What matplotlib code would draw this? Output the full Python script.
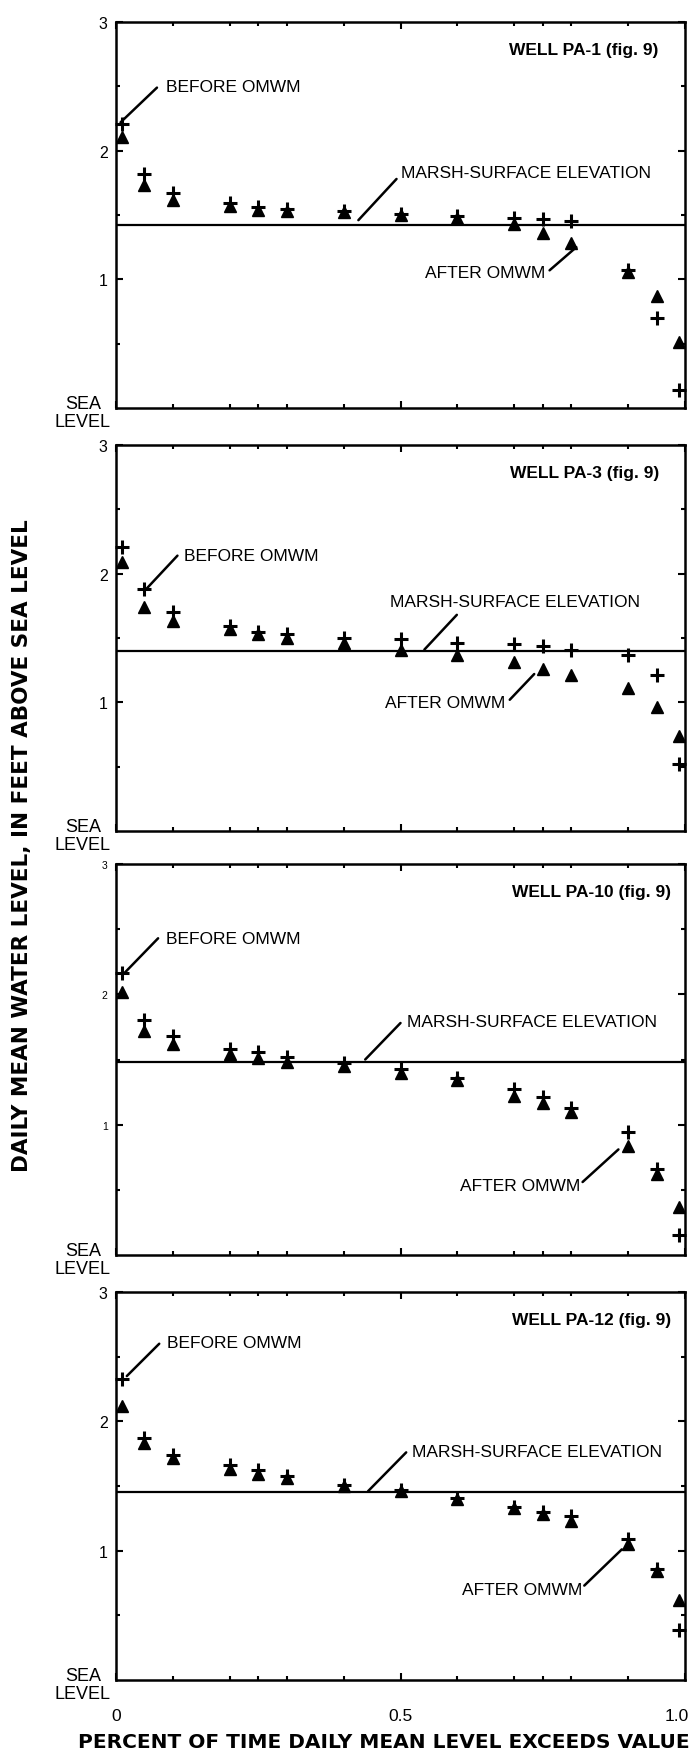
import matplotlib
matplotlib.use("Agg")
import matplotlib.pyplot as plt
import matplotlib.transforms as mtransforms
from matplotlib.ticker import FixedLocator, NullFormatter

plt.rcParams['font.family'] = ['Liberation Sans', 'DejaVu Sans']

# exceedance fraction for each plotted point
exceedance = [0.01, 0.05, 0.1, 0.2, 0.25, 0.3, 0.4, 0.5, 0.6, 0.7, 0.75, 0.8, 0.9, 0.95, 0.99]

# daily mean water level, feet above sea level
pa1_before = [2.21, 1.82, 1.67, 1.59, 1.56, 1.55, 1.53, 1.51, 1.49, 1.48, 1.47, 1.45, 1.07, 0.70, 0.14]
pa1_after = [2.11, 1.73, 1.62, 1.57, 1.54, 1.53, 1.52, 1.50, 1.48, 1.43, 1.36, 1.28, 1.06, 0.87, 0.51]
pa3_before = [2.21, 1.88, 1.70, 1.59, 1.55, 1.53, 1.50, 1.49, 1.46, 1.45, 1.44, 1.41, 1.37, 1.21, 0.52]
pa3_after = [2.09, 1.74, 1.63, 1.57, 1.53, 1.50, 1.46, 1.41, 1.37, 1.31, 1.26, 1.21, 1.11, 0.96, 0.74]
pa10_before = [2.16, 1.80, 1.68, 1.58, 1.56, 1.52, 1.47, 1.43, 1.36, 1.27, 1.21, 1.13, 0.94, 0.66, 0.15]
pa10_after = [2.02, 1.72, 1.62, 1.54, 1.51, 1.48, 1.45, 1.40, 1.34, 1.22, 1.17, 1.10, 0.84, 0.62, 0.37]
pa12_before = [2.33, 1.87, 1.74, 1.66, 1.62, 1.58, 1.51, 1.47, 1.41, 1.34, 1.30, 1.27, 1.09, 0.86, 0.39]
pa12_after = [2.12, 1.83, 1.72, 1.63, 1.59, 1.56, 1.50, 1.46, 1.40, 1.33, 1.28, 1.23, 1.05, 0.84, 0.62]

well_names = ["WELL PA-1 (fig. 9)", "WELL PA-3 (fig. 9)", "WELL PA-10 (fig. 9)", "WELL PA-12 (fig. 9)"]
marsh_elev = [1.42, 1.40, 1.48, 1.45]
before_sets = [pa1_before, pa3_before, pa10_before, pa12_before]
after_sets = [pa1_after, pa3_after, pa10_after, pa12_after]

# label placement: (text x, text y, line start, line end)
before_lbl = [(0.088, 2.50, (0.072, 2.49), (0.008, 2.22)),
              (0.119, 2.14, (0.108, 2.14), (0.053, 1.88)),
              (0.088, 2.43, (0.074, 2.43), (0.014, 2.16)),
              (0.089, 2.61, (0.076, 2.60), (0.019, 2.35))]
marsh_lbl = [(0.501, 1.83, (0.493, 1.78), (0.426, 1.46)),
             (0.482, 1.78, (0.599, 1.68), (0.542, 1.41)),
             (0.512, 1.79, (0.500, 1.78), (0.438, 1.50)),
             (0.521, 1.77, (0.510, 1.76), (0.443, 1.46))]
after_lbl = [(0.754, 1.05, (0.762, 1.07), (0.809, 1.25)),
             (0.684, 1.00, (0.692, 1.02), (0.735, 1.22)),
             (0.816, 0.53, (0.820, 0.56), (0.883, 0.81)),
             (0.819, 0.70, (0.823, 0.73), (0.889, 1.01))]
name_x = [0.954, 0.954, 0.975, 0.975]
ytick_size = [11.5, 11.5, 7.5, 11.5]

# panel extents in pixels (top, bottom)
panel_px = [(23, 409), (446, 832), (865, 1256), (1293, 1681)]

W, H = 691, 1756
fig = plt.figure(figsize=(W / 100, H / 100), dpi=100)

for i in range(4):
    top, bot = panel_px[i]
    ax = fig.add_axes([116 / W, 1 - bot / H, 569 / W, (bot - top) / H])
    ax.set_xlim(0, 1)
    ax.set_ylim(0, 3)

    ax.axhline(marsh_elev[i], color='black', lw=1.6, zorder=2)
    ax.plot(exceedance, after_sets[i], linestyle='none', marker='^', ms=8,
            color='black', zorder=3, clip_on=False)
    ax.plot(exceedance, before_sets[i], linestyle='none', marker='+', ms=10,
            mew=2.2, color='black', zorder=4, clip_on=False)

    for lbl, txt, ha in [(before_lbl[i], "BEFORE OMWM", 'left'),
                         (marsh_lbl[i], "MARSH-SURFACE ELEVATION", 'left'),
                         (after_lbl[i], "AFTER OMWM", 'right')]:
        tx, ty, p0, p1 = lbl
        ax.text(tx, ty, txt, ha=ha, va='center', fontsize=12.5)
        ax.annotate('', xy=p1, xytext=p0,
                    arrowprops=dict(arrowstyle='-', lw=1.8, color='black',
                                    shrinkA=0, shrinkB=0))

    ax.text(name_x[i], 0.93, well_names[i], transform=ax.transAxes,
            ha='right', va='center', fontsize=12.5, fontweight='bold')

    for s in ax.spines.values():
        s.set_linewidth(1.8)

    ax.yaxis.set_major_locator(FixedLocator([1, 2, 3]))
    ax.yaxis.set_minor_locator(FixedLocator([0.5, 1.5, 2.5]))
    ax.xaxis.set_major_locator(FixedLocator([0, 0.5, 1.0]))
    ax.xaxis.set_minor_locator(FixedLocator([0.1, 0.2, 0.25, 0.3, 0.4, 0.6, 0.7, 0.75, 0.8, 0.9]))
    ax.yaxis.set_minor_formatter(NullFormatter())
    ax.xaxis.set_minor_formatter(NullFormatter())
    ax.tick_params(which='both', direction='in', top=True, right=True, width=1.5, color='black')
    ax.tick_params(which='major', length=5)
    ax.tick_params(which='minor', length=3)
    ax.tick_params(axis='y', which='major', labelsize=ytick_size[i], pad=6)
    ax.set_yticklabels(["1", "2", "3"])

    ax.text(-0.058, -0.012, "SEA\nLEVEL", transform=ax.transAxes, ha='center',
            va='center', fontsize=13, linespacing=1.05)

    if i < 3:
        ax.tick_params(axis='x', labelbottom=False)
    else:
        ax.set_xticklabels(["0", "0.5", "1.0"])
        ax.tick_params(axis='x', which='major', labelsize=12.5, pad=20)
        last = ax.get_xticklabels()[-1]
        last.set_transform(last.get_transform() +
                           mtransforms.ScaledTranslation(-8 / 100, 0, fig.dpi_scale_trans))

fig.text(0.556, 1 - 1743 / H, "PERCENT OF TIME DAILY MEAN LEVEL EXCEEDS VALUE",
         ha='center', va='center', fontsize=14.5, fontweight='bold', family='DejaVu Sans')
fig.text(0.032, 1 - 846 / H, "DAILY MEAN WATER LEVEL, IN FEET ABOVE SEA LEVEL",
         ha='center', va='center', rotation=90, fontsize=15.5, fontweight='bold',
         family='DejaVu Sans')

fig.savefig("out.png", dpi=100)
